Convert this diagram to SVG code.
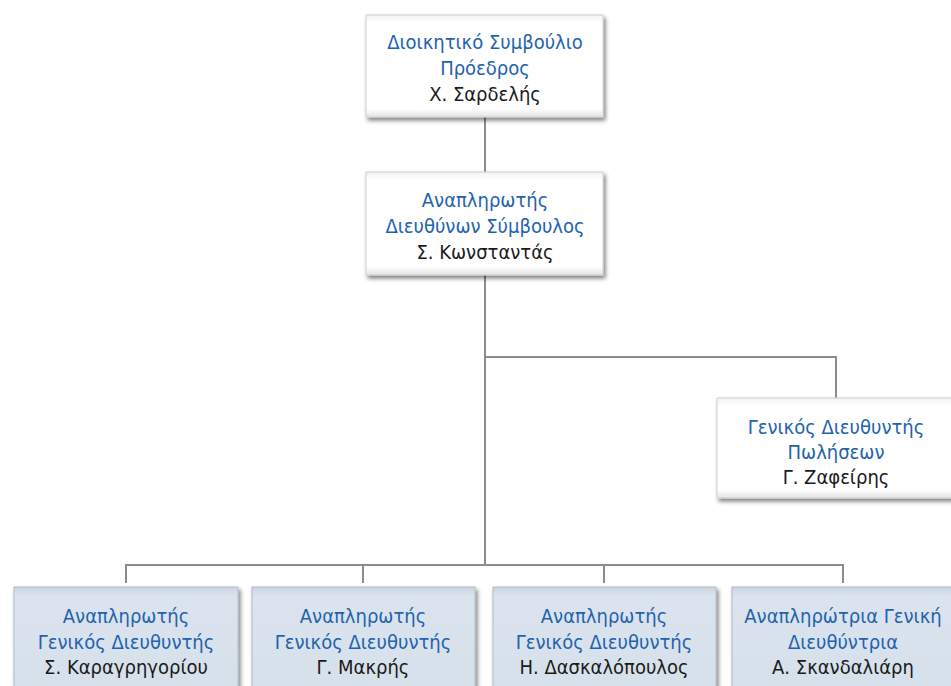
<svg xmlns="http://www.w3.org/2000/svg" width="951" height="686" viewBox="0 0 951 686">
<defs>
<linearGradient id="gw" x1="0" y1="0" x2="0" y2="1"><stop offset="0" stop-color="#f2f2f2"/><stop offset="0.08" stop-color="#ffffff"/><stop offset="0.92" stop-color="#ffffff"/><stop offset="1" stop-color="#e2e2e2"/></linearGradient>
<linearGradient id="gb" x1="0" y1="0" x2="0" y2="1"><stop offset="0" stop-color="#c9d5e1"/><stop offset="0.08" stop-color="#dbe4ee"/><stop offset="1" stop-color="#d6e0ea"/></linearGradient>
<filter id="sh" x="-5%" y="-5%" width="115%" height="125%"><feGaussianBlur in="SourceAlpha" stdDeviation="2"/><feOffset dx="2" dy="3"/><feComponentTransfer><feFuncA type="linear" slope="0.5"/></feComponentTransfer><feMerge><feMergeNode/><feMergeNode in="SourceGraphic"/></feMerge></filter>
</defs>
<style>
.bw{fill:url(#gw);stroke:#d0d0d0;stroke-width:1;filter:url(#sh)}
.bb{fill:url(#gb);stroke:#b0bcc8;stroke-width:1;filter:url(#sh)}
text{font-family:"DejaVu Sans Condensed","DejaVu Sans",sans-serif;font-size:20px;text-anchor:middle}
.t{fill:#1f63ad}
.n{fill:#1a1a1a}
.c{fill:none;stroke:#8c8c8c;stroke-width:2}
</style>
<rect width="951" height="686" fill="#ffffff"/>
<g id="connectors">
<path class="c" d="M485 117V172M485 275V565M485 357H836V398M126 583V565H843V583M363 565V583M604 565V583"/>
</g>
<g id="n1"><rect class="bw" x="366" y="15" width="237" height="102"/>
<text class="t" x="485" y="49">Διοικητικό Συμβούλιο</text><text class="t" x="485" y="75">Πρόεδρος</text><text class="n" x="485" y="101">Χ. Σαρδελής</text></g>
<g id="n2"><rect class="bw" x="366" y="172" width="237" height="103"/>
<text class="t" x="485" y="207">Αναπληρωτής</text><text class="t" x="485" y="233">Διευθύνων Σύμβουλος</text><text class="n" x="485" y="259">Σ. Κωνσταντάς</text></g>
<g id="n3"><rect class="bw" x="717" y="398" width="238" height="100"/>
<text class="t" x="836" y="434">Γενικός Διευθυντής</text><text class="t" x="836" y="459">Πωλήσεων</text><text class="n" x="836" y="484">Γ. Ζαφείρης</text></g>
<g id="n4"><rect class="bb" x="14" y="587" width="224" height="110"/>
<text class="t" x="126" y="623">Αναπληρωτής</text><text class="t" x="126" y="649">Γενικός Διευθυντής</text><text class="n" x="126" y="674">Σ. Καραγρηγορίου</text></g>
<g id="n5"><rect class="bb" x="252" y="587" width="223" height="110"/>
<text class="t" x="363" y="623">Αναπληρωτής</text><text class="t" x="363" y="649">Γενικός Διευθυντής</text><text class="n" x="363" y="674">Γ. Μακρής</text></g>
<g id="n6"><rect class="bb" x="493" y="587" width="223" height="110"/>
<text class="t" x="604" y="623">Αναπληρωτής</text><text class="t" x="604" y="649">Γενικός Διευθυντής</text><text class="n" x="604" y="674">Η. Δασκαλόπουλος</text></g>
<g id="n7"><rect class="bb" x="732" y="587" width="223" height="110"/>
<text class="t" x="843" y="623">Αναπληρώτρια Γενική</text><text class="t" x="843" y="649">Διευθύντρια</text><text class="n" x="843" y="674">Α. Σκανδαλιάρη</text></g>
</svg>
